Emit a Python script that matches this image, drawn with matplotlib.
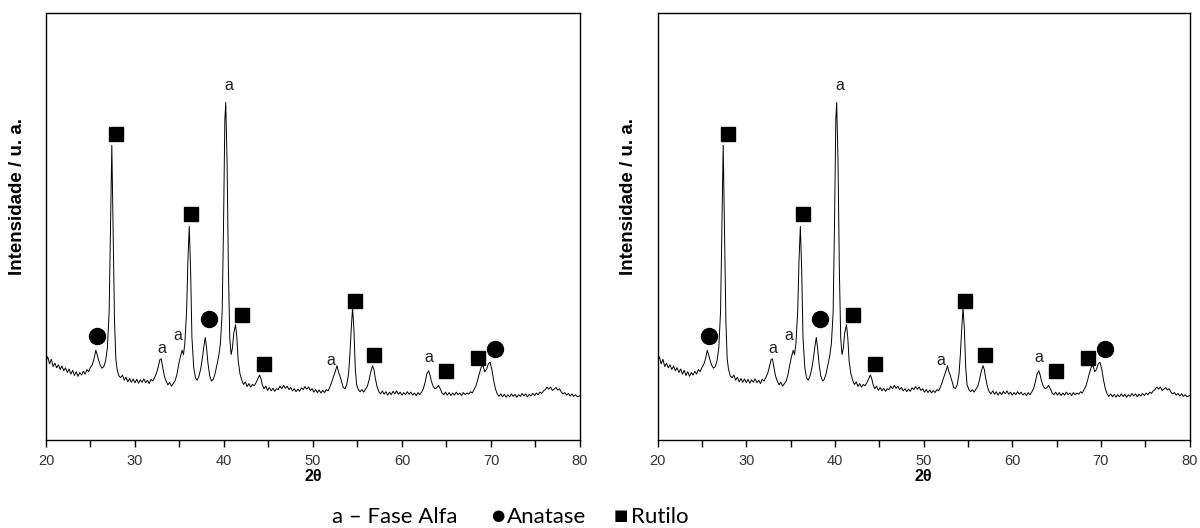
import matplotlib
matplotlib.use('Agg')
from matplotlib import pyplot as plt

# diffractogram (2theta, intensity in % of axis height)
two_theta = [
    20.0, 20.2, 20.4, 20.6, 20.8, 21.0, 21.2, 21.4, 21.6, 21.8, 22.0, 22.2, 22.4, 22.6, 22.8,
    23.0, 23.2, 23.4, 23.6, 23.8, 24.0, 24.2, 24.4, 24.6, 24.8, 25.0, 25.2, 25.4, 25.6, 25.75,
    25.9, 26.1, 26.3, 26.5, 26.7, 26.9, 27.1, 27.25, 27.4, 27.55, 27.7, 27.85, 28.0, 28.2, 28.4,
    28.6, 28.8, 29.0, 29.2, 29.4, 29.6, 29.8, 30.0, 30.2, 30.4, 30.6, 30.8, 31.0, 31.2, 31.4,
    31.6, 31.8, 32.0, 32.2, 32.4, 32.6, 32.8, 32.95, 33.1, 33.3, 33.5, 33.7, 33.9, 34.1, 34.3,
    34.5, 34.7, 34.9, 35.1, 35.3, 35.45, 35.6, 35.8, 35.95, 36.1, 36.25, 36.4, 36.6, 36.8, 37.0,
    37.2, 37.4, 37.6, 37.75, 37.9, 38.05, 38.2, 38.4, 38.6, 38.8, 39.0, 39.2, 39.4, 39.6, 39.8,
    39.95, 40.1, 40.2, 40.35, 40.5, 40.65, 40.8, 40.95, 41.1, 41.3, 41.45, 41.6, 41.8, 42.0, 42.2,
    42.4, 42.6, 42.8, 43.0, 43.2, 43.4, 43.6, 43.8, 44.0, 44.15, 44.3, 44.5, 44.7, 44.9, 45.1,
    45.3, 45.5, 45.7, 45.9, 46.1, 46.3, 46.5, 46.7, 46.9, 47.1, 47.3, 47.5, 47.7, 47.9, 48.1,
    48.3, 48.5, 48.7, 48.9, 49.1, 49.3, 49.5, 49.7, 49.9, 50.1, 50.3, 50.5, 50.7, 50.9, 51.1,
    51.3, 51.5, 51.7, 51.9, 52.1, 52.3, 52.5, 52.7, 52.85, 53.0, 53.2, 53.4, 53.6, 53.8, 54.0,
    54.15, 54.3, 54.45, 54.6, 54.75, 54.9, 55.1, 55.3, 55.5, 55.7, 55.9, 56.1, 56.3, 56.5, 56.7,
    56.85, 57.0, 57.2, 57.4, 57.6, 57.8, 58.0, 58.2, 58.4, 58.6, 58.8, 59.0, 59.2, 59.4, 59.6,
    59.8, 60.0, 60.2, 60.4, 60.6, 60.8, 61.0, 61.2, 61.4, 61.6, 61.8, 62.0, 62.2, 62.4, 62.6,
    62.8, 63.0, 63.15, 63.3, 63.5, 63.7, 63.9, 64.1, 64.3, 64.5, 64.7, 64.9, 65.1, 65.3, 65.5,
    65.7, 65.9, 66.1, 66.3, 66.5, 66.7, 66.9, 67.1, 67.3, 67.5, 67.7, 67.9, 68.1, 68.3, 68.5,
    68.7, 68.9, 69.1, 69.3, 69.5, 69.7, 69.9, 70.1, 70.3, 70.5, 70.7, 70.9, 71.1, 71.3, 71.5,
    71.7, 71.9, 72.1, 72.3, 72.5, 72.7, 72.9, 73.1, 73.3, 73.5, 73.7, 73.9, 74.1, 74.3, 74.5,
    74.7, 74.9, 75.1, 75.3, 75.5, 75.7, 75.9, 76.1, 76.3, 76.5, 76.7, 76.9, 77.1, 77.3, 77.5,
    77.7, 77.9, 78.1, 78.3, 78.5, 78.7, 78.9, 79.1, 79.3, 79.5, 79.7, 80.0,
]
intensity = [
    18.5, 19.5, 17.8, 18.9, 17.2, 18.0, 16.9, 17.6, 16.5, 17.3, 16.2, 16.9, 15.8, 16.6, 15.4,
    16.3, 15.1, 16.0, 14.9, 15.8, 15.2, 16.1, 15.4, 16.5, 16.0, 17.0, 17.6, 19.0, 21.0, 20.0,
    18.8, 17.5, 16.8, 17.2, 18.5, 21.5, 30.0, 50.0, 69.0, 48.0, 28.0, 19.0, 16.5, 15.0, 14.6,
    15.2, 14.0, 14.7, 13.6, 14.4, 13.5, 14.3, 13.4, 14.2, 13.3, 14.1, 13.5, 14.3, 13.4, 14.0,
    13.2, 14.2, 13.8, 14.6, 15.5, 17.0, 18.8, 19.0, 17.2, 15.0, 13.8, 12.9, 13.5, 12.6, 13.2,
    13.8, 15.2, 17.5, 19.5, 21.0, 20.0, 22.5, 30.0, 42.0, 50.0, 40.0, 24.0, 17.0, 14.5, 14.0,
    15.0, 16.8, 19.5, 22.0, 24.0, 21.5, 18.0, 15.0, 13.8, 14.2, 15.5, 17.5, 19.5, 22.5, 30.0,
    50.0, 75.0, 79.0, 65.0, 40.0, 24.0, 20.0, 21.5, 25.0, 27.0, 24.0, 18.5, 15.5, 14.0, 13.0,
    13.6, 12.5, 13.2, 12.4, 13.0, 12.7, 13.4, 14.3, 15.2, 14.4, 13.0, 12.0, 12.6, 11.6, 12.3,
    11.5, 12.1, 11.4, 12.0, 11.8, 12.6, 12.0, 12.8, 12.1, 12.6, 11.8, 12.3, 11.5, 12.0, 11.3,
    11.9, 11.4, 12.2, 11.8, 12.5, 11.9, 12.4, 11.6, 12.0, 11.2, 11.8, 11.1, 11.7, 11.0, 11.6,
    11.1, 11.8, 11.5, 12.4, 13.5, 14.8, 16.0, 17.4, 16.0, 15.2, 13.8, 12.3, 12.0, 13.0, 15.5,
    20.0, 26.0, 31.0, 26.0, 17.0, 13.0, 11.8, 11.3, 11.8, 11.2, 11.9, 12.5, 14.0, 16.0, 17.4,
    16.5, 14.5, 12.5, 11.3, 10.8, 11.5, 10.7, 11.3, 10.5, 11.2, 10.6, 11.4, 10.8, 11.5, 10.7,
    11.2, 10.5, 11.1, 10.6, 11.3, 10.7, 11.2, 10.5, 11.0, 10.4, 11.1, 10.6, 11.2, 12.0, 13.5,
    15.5, 16.2, 15.2, 13.8, 12.6, 12.0, 12.2, 12.8, 12.0, 11.0, 10.6, 11.2, 10.5, 11.1, 10.4,
    11.0, 10.5, 11.2, 10.6, 11.0, 10.4, 11.1, 10.6, 11.0, 10.7, 11.3, 11.0, 11.8, 12.6, 14.0,
    15.6, 17.0, 17.5, 16.0, 16.5, 17.8, 18.2, 16.5, 14.0, 12.0, 10.8, 10.2, 10.8, 10.1, 10.7,
    10.0, 10.6, 10.1, 10.8, 10.2, 10.7, 10.0, 10.6, 10.2, 10.9, 10.3, 10.8, 10.1, 10.7, 10.3,
    10.9, 10.4, 11.0, 10.6, 11.2, 10.9, 11.5, 11.8, 12.4, 11.9, 12.4, 11.6, 11.9, 12.3, 11.7,
    12.0, 11.2, 10.8, 11.1, 10.5, 10.9, 10.3, 10.8, 10.2, 10.6, 10.1, 10.4,
]

# phase labels
alpha_x = [33.0, 34.8, 40.6, 52.0, 63.0]
alpha_y = [21.3, 24.4, 83.1, 18.5, 19.2]
anatase_x = [25.75, 38.3, 70.5]
anatase_y = [24.4, 28.3, 21.3]
rutilo_x = [27.9, 36.35, 42.0, 44.5, 54.7, 56.9, 64.9, 68.5]
rutilo_y = [71.7, 52.9, 29.3, 17.8, 32.6, 19.9, 16.2, 19.2]

plt.rcParams['font.family'] = ['Liberation Sans', 'DejaVu Sans']

fig = plt.figure(figsize=(12, 5.28), dpi=100)
panels = [fig.add_axes([0.0383, 0.1667, 0.445, 0.809]),
          fig.add_axes([0.548, 0.1667, 0.4433, 0.809])]

for ax in panels:
    ax.plot(two_theta, intensity, color='black', lw=0.7)
    ax.plot(anatase_x, anatase_y, 'o', color='black', ms=11.5)
    ax.plot(rutilo_x, rutilo_y, 's', color='black', ms=9.5)
    for x, y in zip(alpha_x, alpha_y):
        ax.text(x, y, 'a', ha='center', va='center', fontsize=11.5, color='#222222')
    ax.set_xlim(20, 80)
    ax.set_ylim(0, 100)
    ax.set_xticks(range(20, 81, 10))
    ax.set_xticks(range(25, 80, 10), minor=True)
    ax.tick_params(axis='x', which='both', direction='out', length=5, width=1,
                   labelsize=10.5, labelcolor='#333333', pad=5)
    ax.set_yticks([])
    ax.set_xlabel('2θ', fontweight='bold', fontsize=11.5, labelpad=1)
    ax.set_ylabel('Intensidade / u. a.', fontweight='bold', fontsize=13.5)
    ax.yaxis.set_label_coords(-0.038, 0.57)
    for s in ax.spines.values():
        s.set_linewidth(1.0)

leg_font = ['Lato', 'DejaVu Sans']
fig.text(0.2767, 0.021, 'a – Fase Alfa', fontsize=16, family=leg_font, va='center')
fig.text(0.4145, 0.023, '●', fontsize=11, family=['DejaVu Sans'], va='center', ha='center')
fig.text(0.4225, 0.021, 'Anatase', fontsize=16, family=leg_font, va='center')
fig.text(0.5175, 0.023, '■', fontsize=11, family=['DejaVu Sans'], va='center', ha='center')
fig.text(0.5255, 0.021, 'Rutilo', fontsize=16, family=leg_font, va='center')

fig.savefig('out.png', dpi=100)
